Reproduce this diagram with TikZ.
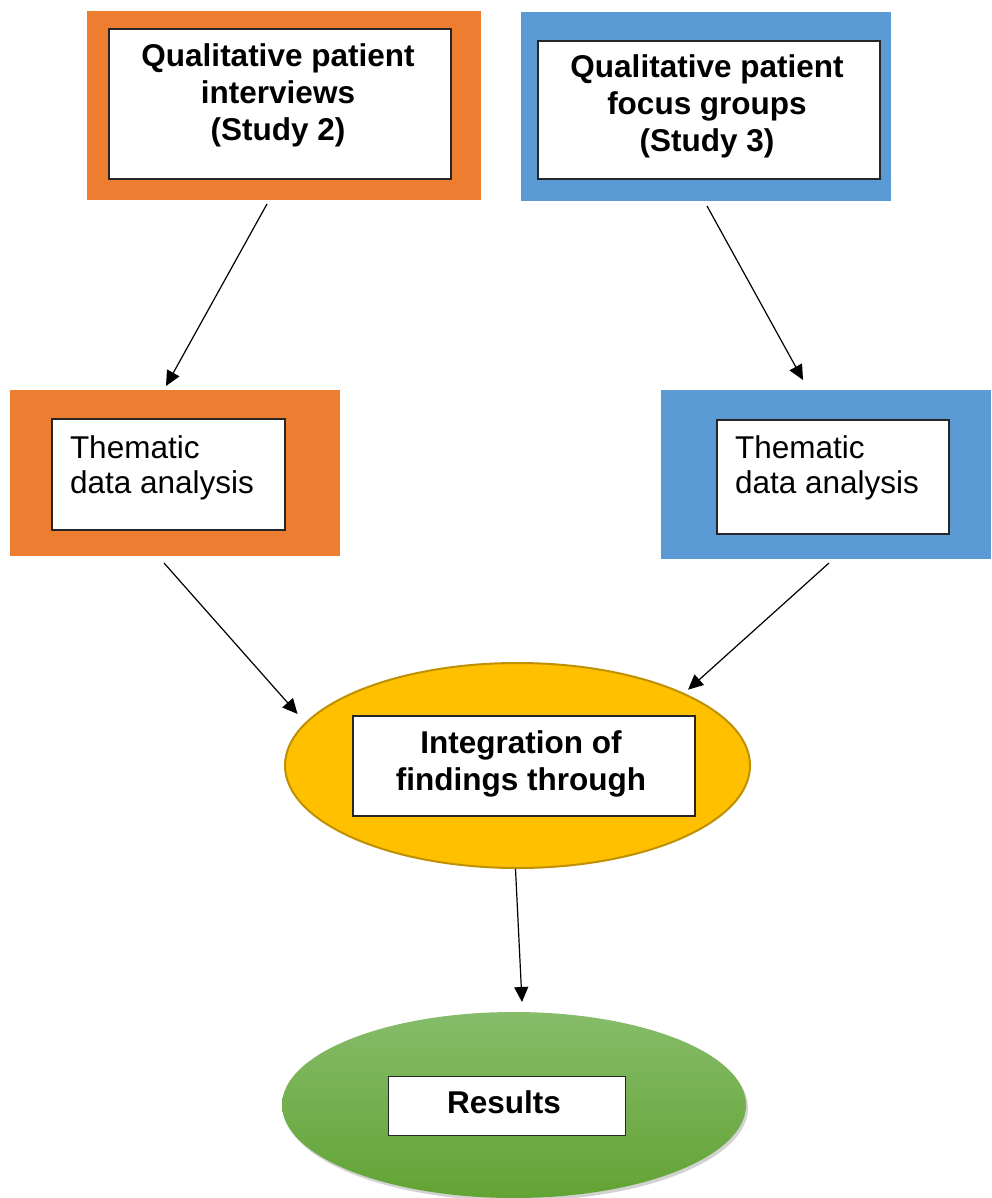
\documentclass[tikz,border=0pt]{standalone}
\usepackage{fontspec}
\setmainfont{Liberation Sans}
\usetikzlibrary{arrows.meta,calc,shapes.geometric,shadows}
\definecolor{orng}{HTML}{ED7D31}
\definecolor{blu}{HTML}{5B9BD5}
\definecolor{gold}{HTML}{FFC000}
\definecolor{goldline}{HTML}{BF9000}
\definecolor{grntop}{HTML}{86BC6A}
\definecolor{grnbot}{HTML}{62A334}
\begin{document}
\begin{tikzpicture}[x=1pt,y=-1pt,
  panel/.style n args={3}{rectangle,draw=none,fill=#1,inner sep=0pt,outer sep=0pt,
    minimum width=#2,minimum height=#3},
  whitebox/.style 2 args={rectangle,draw=black!85,line width=1.2pt,fill=white,inner sep=0pt,
    outer sep=0pt,minimum width=#1,minimum height=#2},
  label/.style={inner sep=0pt,outer sep=0pt,font=\fontsize{31.5}{35}\selectfont},
  boldlabel/.style={label,font=\fontsize{31.5}{37}\selectfont\bfseries},
  flow/.style={line width=1.2pt,-{Triangle[length=15pt,width=14pt]}}]
\clip (0,0) rectangle (991,1198);
\fill[white] (0,0) rectangle (991,1198);

% top row: the two studies
\node[panel={orng}{394pt}{189pt}] (o1) at (284,105.5) {};
\node[whitebox={342pt}{150pt}] (i1) at (280,104) {};
\node[boldlabel,align=center,anchor=base] (t1) at (278,141)
  {Qualitative patient\\interviews\\(Study 2)};

\node[panel={blu}{370pt}{189pt}] (b1) at (706,106.5) {};
\node[whitebox={342pt}{138pt}] (j1) at (709,110) {};
\node[boldlabel,align=center,anchor=base] (t2) at (707,152)
  {Qualitative patient\\focus groups\\(Study 3)};

% middle row: analysis of each study
\node[panel={orng}{330pt}{166pt}] (o2) at (175,473) {};
\node[whitebox={233pt}{111pt}] (i2) at (168.5,474.5) {};
\node[label,align=left,anchor=base west] (t3) at (70,493)
  {Thematic\\data analysis};

\node[panel={blu}{330pt}{169pt}] (b2) at (826,474.5) {};
\node[whitebox={232pt}{114pt}] (j2) at (833,477) {};
\node[label,align=left,anchor=base west] (t4) at (735,493)
  {Thematic\\data analysis};

% integration
\node[ellipse,draw=goldline,line width=2pt,fill=gold,inner sep=0pt,outer sep=0pt,
  minimum width=465pt,minimum height=205pt] (y) at (517.5,765.5) {};
\node[whitebox={342pt}{100pt}] (yi) at (524,766) {};
\node[boldlabel,align=center,anchor=base] (t5) at (521,790)
  {Integration of\\findings through};

% results
\node[ellipse,draw=none,top color=grntop,bottom color=grnbot,inner sep=0pt,outer sep=0pt,
  minimum width=464pt,minimum height=186pt,
  drop shadow={shadow xshift=2pt,shadow yshift=-3pt,opacity=0.35}] (g) at (514,1105) {};
\node[whitebox={237pt}{59pt}] (gi) at (507,1105.7) {};
\node[boldlabel,anchor=base] (t6) at (504,1113) {Results};

% connectors
\draw[flow] ([shift={(-17,4)}]o1.south) -- ([shift={(-9,-4)}]o2.north);
\draw[flow] ([shift={(1,5)}]b1.south) -- ([shift={(-23,-10)}]b2.north);
\draw[flow] ([shift={(-11,7)}]o2.south) -- ([shift={(-14,-4)}]y.167);
\draw[flow] ([shift={(3,4)}]b2.south) -- ([shift={(7,-3)}]y.24.8);
\draw[flow] ([shift={(-2,1)}]y.south) -- ([shift={(8,-10)}]g.north);
\end{tikzpicture}
\end{document}
